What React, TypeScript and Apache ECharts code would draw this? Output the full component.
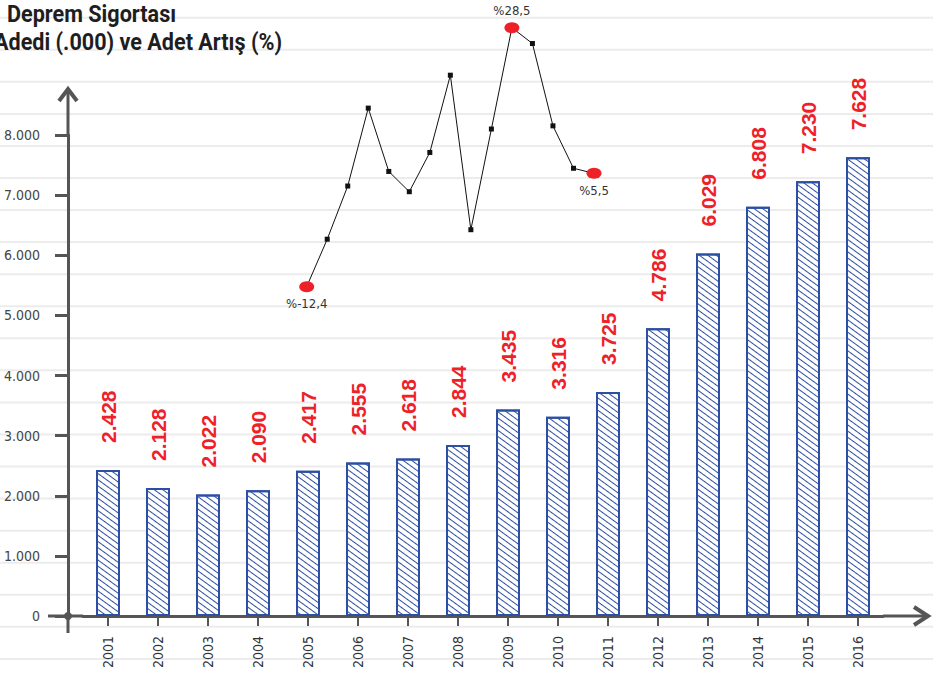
import React, { useEffect, useRef } from "react";
import * as echarts from "echarts";

const years = ["2001", "2002", "2003", "2004", "2005", "2006", "2007", "2008", "2009", "2010", "2011", "2012", "2013", "2014", "2015", "2016"];
const policies = [2428, 2128, 2022, 2090, 2417, 2555, 2618, 2844, 3435, 3316, 3725, 4786, 6029, 6808, 7230, 7628];
const growthYears = ["2002", "2003", "2004", "2005", "2006", "2007", "2008", "2009", "2010", "2011", "2012", "2013", "2014", "2015", "2016"];
const growth = [-12.4, -4.9, 3.5, 15.8, 5.8, 2.6, 8.8, 21.0, -3.4, 12.5, 28.5, 26.0, 13.0, 6.3, 5.5];
const highlightedYears = ["2002", "2012", "2016"];
const titleLine1 = "Deprem Sigortası";
const titleLine2 = "Adedi (.000) ve Adet Artış (%)";

const W = 933;
const H = 673;
const GRID_LEFT = 83;
const GRID_RIGHT = 50;
const GRID_TOP = 135;
const GRID_BOTTOM = 57;
const AXIS_X = 68;
const AXIS_Y = H - GRID_BOTTOM;
const AXIS_COLOR = "#555555";
const BLUE = "#2d4fa3";
const RED = "#ee2129";
const NARROW = "'DejaVu Sans Condensed', 'Roboto', sans-serif";

const fmtThousands = (n: number) => String(n).replace(/\B(?=(\d{3})+(?!\d))/g, ".");
const fmtPct = (v: number) => "%" + String(v).replace(".", ",");

export default function App() {
  const ref = useRef<HTMLDivElement>(null);

  useEffect(() => {
    if (!ref.current) return;
    const chart = echarts.init(ref.current, undefined, { renderer: "svg" });

    const bgLines: any[] = [];
    for (let k = 0; k < 21; k++) {
      const y = 17.7 + 32.06 * k;
      bgLines.push({
        type: "line",
        z: -10,
        shape: { x1: 0, y1: y, x2: W, y2: y },
        style: { stroke: "#ececec", lineWidth: 2 },
      });
    }

    const axisExtras: any[] = [
      { type: "line", z: 50, shape: { x1: 48, y1: AXIS_Y, x2: GRID_LEFT, y2: AXIS_Y }, style: { stroke: AXIS_COLOR, lineWidth: 3 } },
      { type: "line", z: 50, shape: { x1: W - GRID_RIGHT, y1: AXIS_Y, x2: 927, y2: AXIS_Y }, style: { stroke: AXIS_COLOR, lineWidth: 3 } },
      { type: "polyline", z: 50, shape: { points: [[914, AXIS_Y - 9], [928, AXIS_Y], [914, AXIS_Y + 9]] }, style: { stroke: AXIS_COLOR, lineWidth: 4, fill: null } },
      { type: "line", z: 50, shape: { x1: AXIS_X, y1: GRID_TOP, x2: AXIS_X, y2: 90 }, style: { stroke: AXIS_COLOR, lineWidth: 3 } },
      { type: "line", z: 50, shape: { x1: AXIS_X, y1: AXIS_Y, x2: AXIS_X, y2: 633 }, style: { stroke: AXIS_COLOR, lineWidth: 3 } },
      { type: "polyline", z: 50, shape: { points: [[59, 101], [AXIS_X, 89], [77, 101]] }, style: { stroke: AXIS_COLOR, lineWidth: 4, fill: null } },
      { type: "circle", z: 50, shape: { cx: AXIS_X, cy: AXIS_Y, r: 4 }, style: { fill: AXIS_COLOR } },
      {
        type: "text", z: 50, x: 7, y: 2, scaleX: 0.9,
        style: { text: titleLine1, font: "bold 24px Roboto, 'Liberation Sans', sans-serif", fill: "#1e1e1e" },
      },
      {
        type: "text", z: 50, x: -6, y: 30, scaleX: 0.9,
        style: { text: titleLine2, font: "bold 24px Roboto, 'Liberation Sans', sans-serif", fill: "#1e1e1e" },
      },
    ];

    chart.setOption({
      animation: false,
      backgroundColor: "#ffffff",
      graphic: { elements: [...bgLines, ...axisExtras] },
      grid: [
        { left: GRID_LEFT, right: GRID_RIGHT, top: GRID_TOP, bottom: GRID_BOTTOM },
        { left: 306.7, top: 27.7, width: 287.3, height: 259 },
      ],
      xAxis: [
        {
          type: "category",
          gridIndex: 0,
          data: years,
          axisLine: { show: true, lineStyle: { color: AXIS_COLOR, width: 3 } },
          axisTick: { show: true, alignWithLabel: true, length: 10, lineStyle: { color: AXIS_COLOR, width: 2 } },
          axisLabel: { rotate: 90, margin: 20, fontSize: 14, color: "#333", fontFamily: NARROW },
          splitLine: { show: false },
        },
        { type: "category", gridIndex: 1, data: growthYears, boundaryGap: false, show: false },
      ],
      yAxis: [
        {
          type: "value",
          gridIndex: 0,
          min: 0,
          max: 8000,
          interval: 1000,
          offset: GRID_LEFT - AXIS_X,
          axisLine: { show: true, lineStyle: { color: AXIS_COLOR, width: 3 } },
          axisTick: { show: true, length: 13, lineStyle: { color: AXIS_COLOR, width: 3 } },
          axisLabel: { margin: 28, fontSize: 14, color: "#444", fontFamily: NARROW, formatter: (v: number) => fmtThousands(v) },
          splitLine: { show: false },
        },
        { type: "value", gridIndex: 1, min: -12.4, max: 28.5, show: false },
      ],
      series: [
        {
          type: "bar",
          xAxisIndex: 0,
          yAxisIndex: 0,
          data: policies,
          barWidth: 24,
          itemStyle: {
            color: "#ffffff",
            borderColor: BLUE,
            borderWidth: 2,
            decal: {
              symbol: "rect",
              symbolSize: 1,
              color: BLUE,
              dashArrayX: [1, 0],
              dashArrayY: [1, 4],
              rotation: Math.PI / 5,
            },
          },
          label: {
            show: true,
            position: "top",
            distance: 27,
            rotate: 90,
            align: "left",
            verticalAlign: "middle",
            fontSize: 21,
            fontWeight: "bold",
            fontFamily: "'Liberation Sans', Arial, sans-serif",
            color: RED,
            formatter: (p: any) => fmtThousands(p.value),
          },
          z: 2,
        },
        {
          type: "line",
          xAxisIndex: 1,
          yAxisIndex: 1,
          data: growth.map((v, i) => {
            const hl = highlightedYears.includes(growthYears[i]);
            if (!hl) return v;
            const top = v === Math.max(...growth);
            return {
              value: v,
              symbol: "circle",
              symbolSize: [15, 11],
              itemStyle: { color: RED },
              label: {
                show: true,
                position: top ? "top" : "bottom",
                distance: 5,
                formatter: fmtPct(v),
                fontSize: 13,
                fontFamily: NARROW,
                color: "#333",
              },
            };
          }),
          symbol: "rect",
          symbolSize: 5,
          lineStyle: { color: "#111", width: 1 },
          itemStyle: { color: "#111" },
          label: { show: false },
          z: 5,
        },
      ],
    });

    return () => chart.dispose();
  }, []);

  return <div ref={ref} style={{ position: "absolute", left: 0, top: 0, width: W, height: H }} />;
}
